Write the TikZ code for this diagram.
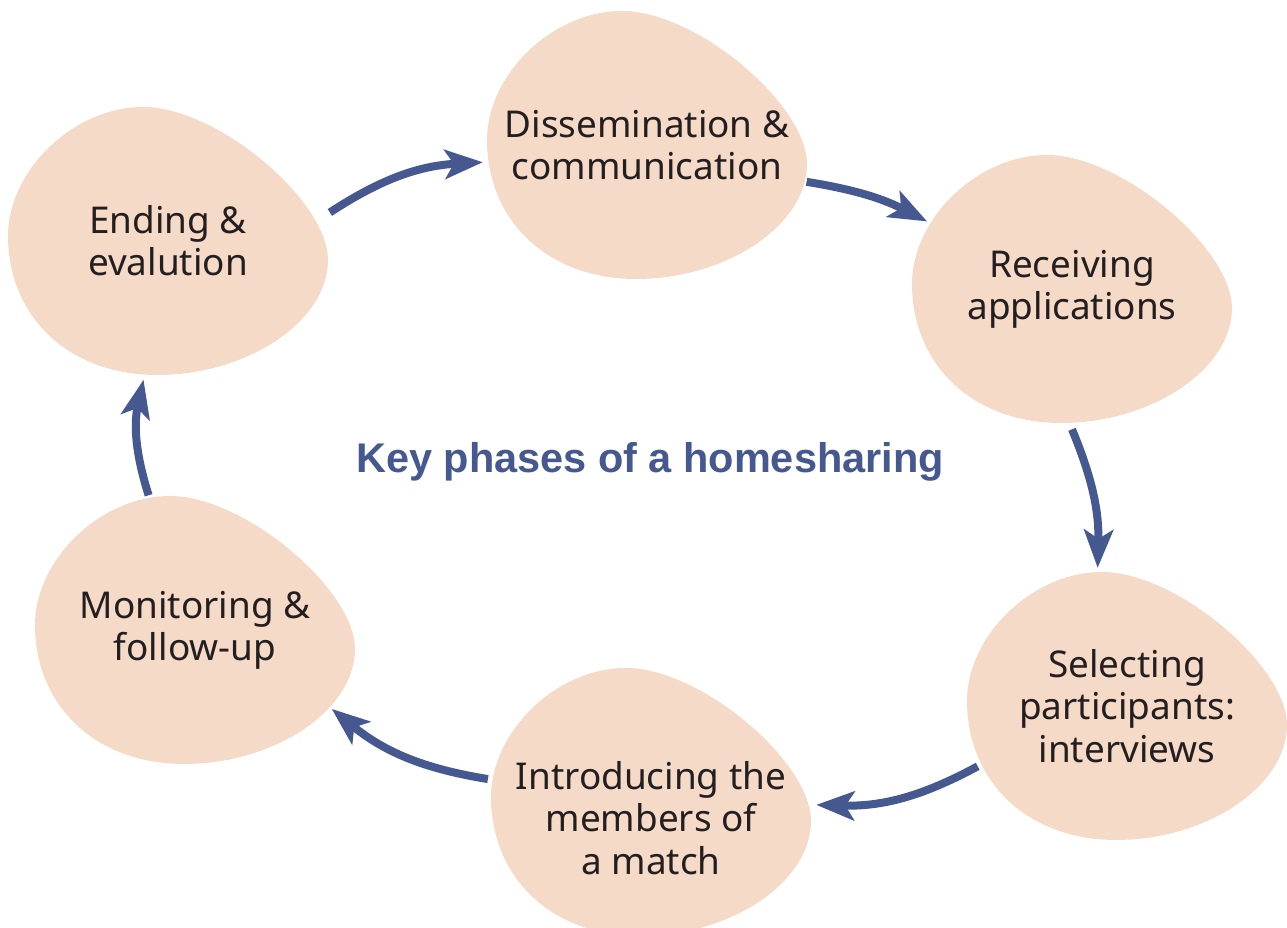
\documentclass[tikz,border=0pt]{standalone}
\usepackage{fontspec}
\setmainfont{Noto Sans}
\newfontfamily\headfont{Liberation Sans}
\usepackage{xcolor}
\usetikzlibrary{arrows.meta,shapes.geometric,backgrounds}
\definecolor{peach}{HTML}{F6DAC8}
\definecolor{ink}{HTML}{45588F}
\definecolor{textdark}{HTML}{231F20}

\begin{document}
\begin{tikzpicture}[
  x=0.2mm,y=0.2mm,
  phase/.style={ellipse,minimum width=66mm,minimum height=56mm,inner sep=0pt},
  txt/.style={align=center,text=textdark,font=\fontsize{21}{24}\selectfont},
  arr/.style={-{Stealth[length=7.6mm,width=5.8mm,inset=1.8mm]},draw=ink,line width=1.6mm},
  title/.style={font=\headfont\fontsize{23.6}{28}\selectfont\bfseries,text=ink}
]
\useasboundingbox (0,0) rectangle (1287,928);

% --- phases, clockwise from top left
\node[phase,label={[txt]center:Ending \&\\evalution}]            (ending)  at (168,687)  {};
\node[phase,label={[txt]center:Dissemination \&\\communication}] (dissem)  at (647,783)  {};
\node[phase,label={[txt]center:Receiving\\applications}]         (receive) at (1072,639) {};
\node[phase,label={[txt]center:Selecting\\participants:\\interviews}] (select) at (1127,222) {};
\node[phase,label={[txt,yshift=-3.2mm]center:Introducing the\\members of\\a match}] (intro) at (651,126) {};
\node[phase,label={[txt]center:Monitoring \&\\follow-up}]        (monitor) at (195,298)  {};

\node[title] (head) at (650,466) {Key phases of a homesharing};

\draw[arr] (ending.10)   to[bend left=15] (dissem.186);
\draw[arr] (dissem.347)  to[bend left=9]  (receive.155);
\draw[arr] (receive.270) to[bend left=12] (select.102);
\draw[arr] (select.202)  to[bend left=15] (intro.359);
\draw[arr] (intro.172)   to[bend left=15] (monitor.330);
\draw[arr] (monitor.109) to[bend left=15] (ending.260);

\begin{scope}[on background layer]
  \foreach \n in {ending,dissem,receive,select,intro,monitor}
    \fill[peach,shift={(\n.center)}]
      (-25,134) .. controls (50,134) and (160,40) .. (160,-19)
      .. controls (160,-80) and (80,-134) .. (-11,-134)
      .. controls (-100,-134) and (-160,-75) .. (-160,5)
      .. controls (-160,70) and (-95,134) .. cycle;
\end{scope}
\end{tikzpicture}
\end{document}
